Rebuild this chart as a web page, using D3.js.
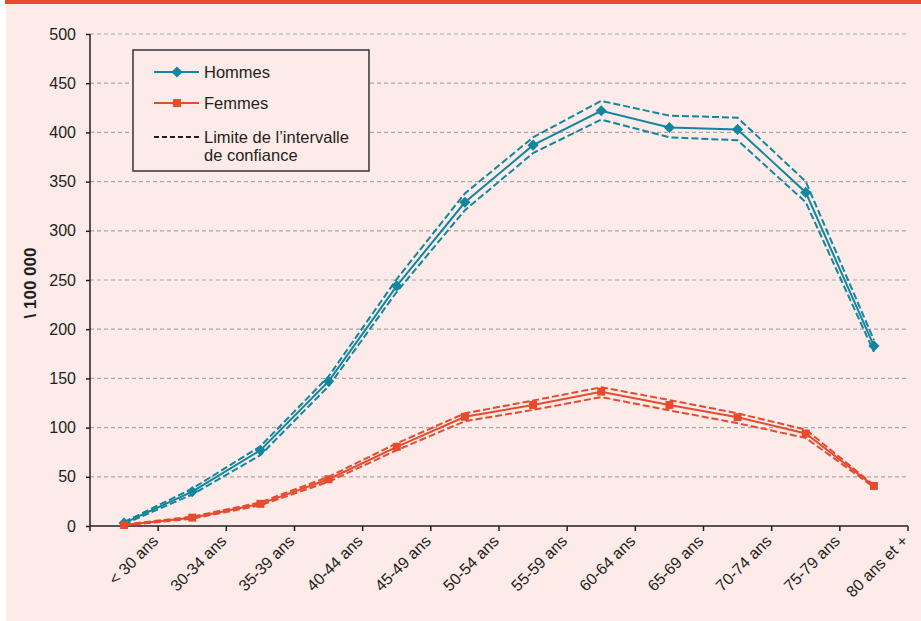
<!DOCTYPE html>
<html>
<head>
<meta charset="utf-8">
<script src="https://cdn.jsdelivr.net/npm/d3@7"></script>
<style>
  html, body { margin: 0; padding: 0; background: #ffffff; }
  svg { display: block; }
  text { font-family: "Liberation Sans", Arial, sans-serif; fill: #231f20; }
</style>
</head>
<body>
<svg id="chart" width="921" height="621"></svg>
<script>
// Age groups on the horizontal axis
const categories = ["< 30 ans", "30-34 ans", "35-39 ans", "40-44 ans", "45-49 ans", "50-54 ans",
  "55-59 ans", "60-64 ans", "65-69 ans", "70-74 ans", "75-79 ans", "80 ans et +"];

// Rates per 100 000 — men
const hommes      = [3, 35, 77, 147, 244, 329, 387, 422, 405, 403, 339, 183];
const hommesHaut  = [4, 38, 81, 152, 251, 338, 395, 432, 417, 415, 350, 189];
const hommesBas   = [2, 32, 72, 142, 238, 321, 379, 413, 395, 392, 329, 177];

// Rates per 100 000 — women
const femmes      = [1, 8.5, 22.5, 47.5, 80.5, 111, 123, 136.5, 123, 110.5, 94, 40.7];
const femmesHaut  = [1.5, 9.5, 24, 50, 84, 114.5, 127.5, 141, 128, 114.5, 98, 41.5];
const femmesBas   = [0.5, 7.5, 21, 45, 77, 106.5, 118, 131, 117.5, 104.5, 89.5, 39.5];

const yTicks = [0, 50, 100, 150, 200, 250, 300, 350, 400, 450, 500];

const legendItems = ["Hommes", "Femmes", "Limite de l’intervalle", "de confiance"];
const yTitle = "\\ 100 000";

const colHommes = "#11869f";
const colFemmes = "#e84a2d";

const svg = d3.select("#chart");

// Page background and top rule
svg.append("rect").attr("x", 6).attr("y", 4).attr("width", 915).attr("height", 617).attr("fill", "#fcebe8");
svg.append("rect").attr("x", 5).attr("y", 0).attr("width", 916).attr("height", 4).attr("fill", "#e8492b");

const x = d3.scaleBand().domain(categories).range([90, 908]).padding(0);
const y = d3.scaleLinear().domain([0, 500]).range([526, 34]);
const cx = c => x(c) + x.bandwidth() / 2;

// Horizontal dashed gridlines
svg.append("g").selectAll("line").data(yTicks.filter(d => d > 0)).join("line")
  .attr("x1", 90).attr("x2", 908)
  .attr("y1", d => y(d)).attr("y2", d => y(d))
  .attr("stroke", "#a8a8a8").attr("stroke-width", 1.2).attr("stroke-dasharray", "4,3");

// Y axis
const yAxis = svg.append("g").attr("transform", "translate(90,0)")
  .call(d3.axisLeft(y).tickValues(yTicks).tickSize(4).tickPadding(10).tickFormat(d3.format("d")));
yAxis.select(".domain").attr("stroke", "#231f20").attr("stroke-width", 1.5).attr("d", "M0,34V526");
yAxis.selectAll(".tick line").attr("stroke", "#231f20").attr("stroke-width", 1.5);
yAxis.selectAll(".tick text").attr("font-size", 16).attr("fill", "#231f20")
  .style("font-family", "'Liberation Sans', Arial, sans-serif");

// X axis: line with ticks on the category boundaries
const bounds = categories.map(c => x(c)).concat([x.range()[1]]);
const xg = svg.append("g");
xg.append("line").attr("x1", 90).attr("x2", 908).attr("y1", 526).attr("y2", 526)
  .attr("stroke", "#231f20").attr("stroke-width", 1.5);
xg.selectAll("line.tk").data(bounds).join("line").attr("class", "tk")
  .attr("x1", d => d).attr("x2", d => d).attr("y1", 526).attr("y2", 531)
  .attr("stroke", "#231f20").attr("stroke-width", 1.5);
xg.selectAll("text").data(categories).join("text")
  .attr("transform", c => `translate(${x(c) + x.bandwidth() + 1},${542}) rotate(-45)`)
  .attr("text-anchor", "end").attr("font-size", 16).text(c => c);

// Y axis title
svg.append("text").attr("transform", "translate(36,283) rotate(-90)")
  .attr("text-anchor", "middle").attr("font-size", 17).attr("font-weight", "bold").text(yTitle);

const line = d3.line().x((d, i) => cx(categories[i])).y(d => y(d));

function drawSeries(main, hi, lo, color, marker) {
  const g = svg.append("g");
  [hi, lo].forEach(arr => g.append("path").attr("d", line(arr)).attr("fill", "none")
    .attr("stroke", color).attr("stroke-width", 2).attr("stroke-dasharray", "7,3"));
  g.append("path").attr("d", line(main)).attr("fill", "none")
    .attr("stroke", color).attr("stroke-width", 2);
  g.selectAll("path.mk").data(main).join("path").attr("class", "mk")
    .attr("transform", (d, i) => `translate(${cx(categories[i])},${y(d)})`)
    .attr("d", d3.symbol().type(marker === "diamond" ? d3.symbolDiamond2 : d3.symbolSquare2).size(80))
    .attr("fill", color).attr("stroke", "none");
}

drawSeries(hommes, hommesHaut, hommesBas, colHommes, "diamond");
drawSeries(femmes, femmesHaut, femmesBas, colFemmes, "square");

// Legend
const lg = svg.append("g");
lg.append("rect").attr("x", 133).attr("y", 50).attr("width", 236).attr("height", 121)
  .attr("fill", "#fcebe8").attr("stroke", "#3a3536").attr("stroke-width", 1.5);
const rows = [
  { y: 72, color: colHommes, mk: "diamond", label: legendItems[0] },
  { y: 103, color: colFemmes, mk: "square", label: legendItems[1] }
];
rows.forEach(r => {
  lg.append("line").attr("x1", 154).attr("x2", 199).attr("y1", r.y).attr("y2", r.y)
    .attr("stroke", r.color).attr("stroke-width", 2);
  lg.append("path").attr("transform", `translate(177,${r.y})`)
    .attr("d", d3.symbol().type(r.mk === "diamond" ? d3.symbolDiamond2 : d3.symbolSquare2).size(80))
    .attr("fill", r.color);
  lg.append("text").attr("x", 204).attr("y", r.y + 5.5).attr("font-size", 16.5).text(r.label);
});
lg.append("line").attr("x1", 154).attr("x2", 199).attr("y1", 137).attr("y2", 137)
  .attr("stroke", "#231f20").attr("stroke-width", 2).attr("stroke-dasharray", "5,3");
lg.append("text").attr("x", 204).attr("y", 142.5).attr("font-size", 16.5).text(legendItems[2]);
lg.append("text").attr("x", 204).attr("y", 161).attr("font-size", 16.5).text(legendItems[3]);
</script>
</body>
</html>
